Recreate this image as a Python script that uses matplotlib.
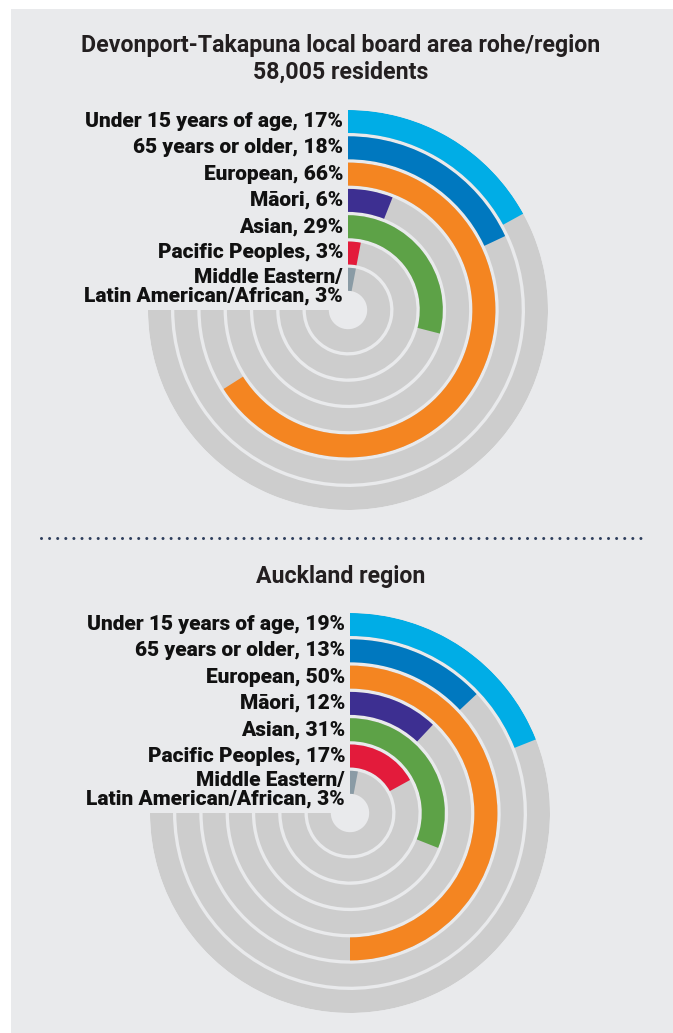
import numpy as np
import matplotlib.pyplot as plt
from matplotlib.patches import Rectangle
from matplotlib.lines import Line2D

W, H = 673, 1033

groups = ["Under 15 years of age", "65 years or older", "European", "Māori",
          "Asian", "Pacific Peoples", "Middle Eastern/\nLatin American/African"]
devonport = [17, 18, 66, 6, 29, 3, 3]
auckland = [19, 13, 50, 12, 31, 17, 3]
colours = ["#00ADE6", "#0078BF", "#F48521", "#3D2F91", "#5DA247", "#E31B3B", "#8A9BA5"]

title_top = "Devonport-Takapuna local board area rohe/region\n58,005 residents"
title_bottom = "Auckland region"

label_font = ["Roboto", "DejaVu Sans"]
title_font = ["Roboto", "DejaVu Sans"]

fig = plt.figure(figsize=(W / 100, H / 100), dpi=100)
fig.patch.set_facecolor("white")
fig.add_artist(Rectangle((11 / W, 0), 1, (H - 9) / H, transform=fig.transFigure,
                         facecolor="#E9EAEC", edgecolor="none", zorder=-1))


def radial(cx, cy, values):
    ax = fig.add_axes([(cx - 200) / W, (H - cy - 200) / H, 400 / W, 400 / H],
                      projection="polar")
    ax.set_theta_zero_location("N")
    ax.set_theta_direction(-1)
    ax.set_ylim(0, 200)
    ax.axis("off")
    for i, (g, v, c) in enumerate(zip(groups, values, colours)):
        outer = 200 - 26.3 * i
        ax.bar(0, 23, width=1.5 * np.pi, bottom=outer - 23, align="edge",
               color="#CDCDCD", linewidth=0)
        ax.bar(0, 23, width=v / 100 * 2 * np.pi, bottom=outer - 23, align="edge",
               color=c, linewidth=0)
        txt = f"{g}, {v}%"
        if "\n" in g:
            ax.annotate(txt, xy=(0, outer - 11.5), xytext=(-5, 11),
                        textcoords="offset pixels", ha="right", va="top",
                        fontsize=15, fontweight="heavy", family=label_font,
                        color="#111111", linespacing=0.95, multialignment="right")
        else:
            ax.annotate(txt, xy=(0, outer - 11.5), xytext=(-5, 0),
                        textcoords="offset pixels", ha="right", va="center",
                        fontsize=15, fontweight="heavy", family=label_font,
                        color="#111111")
    return ax


fig.text(341 / W, 1 - 59 / H, title_top, ha="center", va="center", fontsize=16.7,
         fontweight="bold", family=title_font, color="#231F20", linespacing=1.22)
radial(348, 310, devonport)

fig.add_artist(Line2D([41 / W, 643 / W], [1 - 538 / H, 1 - 538 / H],
                      transform=fig.transFigure, color="#2E3E5C", linewidth=2.2,
                      linestyle=(0, (0.001, 2.65)), dash_capstyle="round"))

fig.text(341 / W, 1 - 576 / H, title_bottom, ha="center", va="center", fontsize=16.7,
         fontweight="bold", family=title_font, color="#231F20")
radial(350, 813, auckland)

fig.savefig("out.png", dpi=100, facecolor=fig.get_facecolor())
